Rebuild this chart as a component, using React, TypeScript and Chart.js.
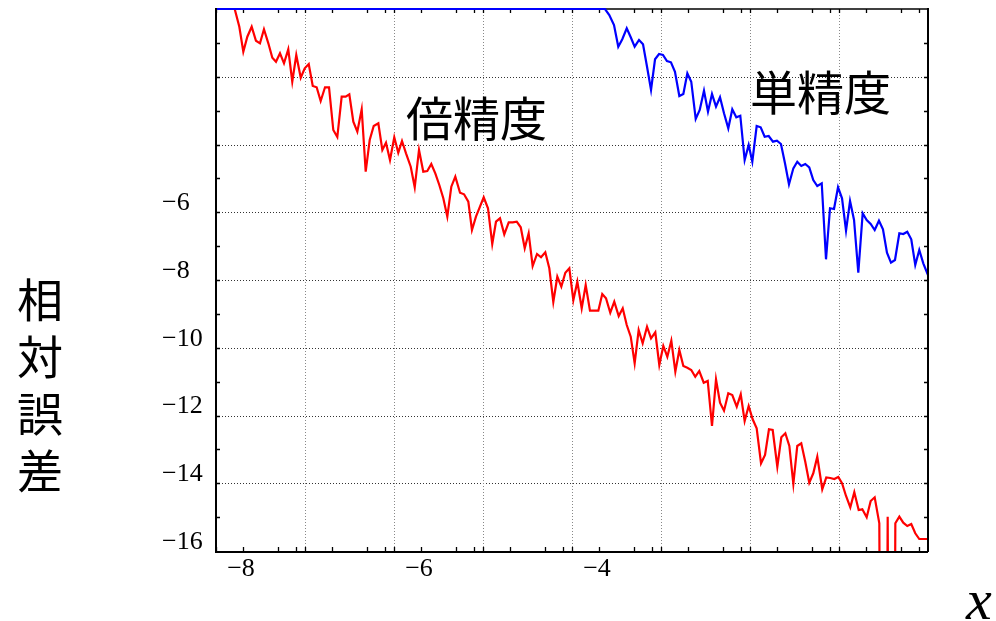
import React, { useEffect, useRef } from 'react';
import { Chart, registerables } from 'chart.js';

Chart.register(...registerables);

// ---- data (x = log10 of step, y = log10 of relative error) ----
const doubleX = [
  -7.831, -7.787, -7.738, -7.693, -7.648, -7.599, -7.551, -7.506, -7.461, -7.412,
  -7.367, -7.326, -7.281, -7.236, -7.188, -7.143, -7.098, -7.048, -7.003, -6.958,
  -6.913, -6.869, -6.824, -6.775, -6.730, -6.682, -6.637, -6.588, -6.543, -6.502,
  -6.457, -6.412, -6.363, -6.318, -6.273, -6.228, -6.176, -6.131, -6.090, -6.045,
  -5.997, -5.952, -5.910, -5.865, -5.812, -5.767, -5.719, -5.671, -5.626, -5.581,
  -5.536, -5.491, -5.446, -5.401, -5.356, -5.311, -5.258, -5.213, -5.165, -5.124,
  -5.079, -5.034, -4.992, -4.944, -4.896, -4.854, -4.809, -4.761, -4.711, -4.666,
  -4.621, -4.576, -4.531, -4.487, -4.442, -4.393, -4.348, -4.300, -4.255, -4.210,
  -4.165, -4.120, -4.075, -4.030, -3.985, -3.940, -3.891, -3.846, -3.798, -3.753,
  -3.704, -3.660, -3.618, -3.570, -3.525, -3.475, -3.430, -3.385, -3.340, -3.296,
  -3.251, -3.206, -3.157, -3.112, -3.064, -3.019, -2.974, -2.929, -2.884, -2.839,
  -2.794, -2.749, -2.704, -2.660, -2.615, -2.570, -2.520, -2.475, -2.427, -2.382,
  -2.337, -2.292, -2.244, -2.199, -2.149, -2.104, -2.060, -2.015, -1.970, -1.925,
  -1.876, -1.831, -1.787, -1.745, -1.693, -1.648, -1.603, -1.558, -1.513, -1.469,
  -1.424, -1.379, -1.334, -1.289, -1.244, -1.188, -1.143, -1.098, -1.053, -1.008,
  -0.966, -0.921, -0.873, -0.828, -0.779, -0.738, -0.689, -0.644, -0.599, -0.547,
  -0.500, -0.453, -0.410, -0.367, -0.322, -0.278, -0.233, -0.188, -0.143, -0.098,
  -0.053, 0,
];
const doubleY = [
  0.5, -0.03, -0.523, -1.260, -0.818, -0.523, -0.936, -1.013, -0.599, -1.013,
  -1.438, -1.556, -1.308, -1.603, -1.190, -2.146, -1.358, -2.028, -1.751, -1.624,
  -2.273, -2.311, -2.716, -2.311, -2.311, -3.572, -3.779, -2.589, -2.589, -2.518,
  -3.327, -3.622, -2.961, -4.803, -3.867, -3.454, -3.374, -4.162, -3.947, -4.458,
  -3.787, -4.242, -3.897, -4.260, -4.655, -5.263, -4.162, -4.803, -4.782, -4.576,
  -4.850, -5.196, -5.588, -6.131, -5.246, -4.950, -5.423, -5.470, -5.689, -6.524,
  -6.131, -5.836, -5.559, -5.883, -6.937, -6.279, -6.179, -6.651, -6.297, -6.297,
  -6.279, -6.444, -7.064, -6.621, -7.587, -7.232, -7.330, -7.182, -7.655, -8.649,
  -7.903, -8.198, -7.784, -7.655, -8.599, -8.050, -8.835, -8.148, -8.906, -8.906,
  -8.906, -8.413, -8.540, -8.965, -8.641, -9.063, -8.835, -9.328, -9.674, -10.459,
  -9.476, -9.869, -9.379, -9.721, -9.544, -10.509, -9.948, -10.264, -9.792, -10.707,
  -10.066, -10.539, -10.589, -10.657, -10.855, -10.686, -11.032, -10.981, -12.310, -10.931,
  -11.622, -11.858, -11.345, -11.395, -11.740, -11.374, -12.162, -11.719, -12.112, -12.378,
  -13.411, -13.166, -12.407, -12.428, -13.511, -12.643, -12.525, -12.900, -14.022, -12.900,
  -12.821, -13.364, -13.984, -13.706, -13.216, -14.178, -13.830, -13.845, -13.874, -13.815,
  -14.001, -14.376, -14.710, -14.267, -14.790, -14.769, -15.005, -14.524, -14.415, -15.182,
  -40, -14.987, -40, -15.182, -14.987, -15.164, -15.262, -15.203, -15.477, -15.646,
  -15.646, -15.646,
];

const singleX = [
  -8, -3.629, -3.581, -3.528, -3.480, -3.435, -3.385, -3.340, -3.296, -3.247,
  -3.202, -3.157, -3.112, -3.067, -3.022, -2.978, -2.933, -2.888, -2.843, -2.794,
  -2.749, -2.704, -2.660, -2.610, -2.565, -2.517, -2.472, -2.427, -2.382, -2.337,
  -2.292, -2.244, -2.199, -2.154, -2.109, -2.060, -2.015, -1.974, -1.925, -1.880,
  -1.835, -1.790, -1.742, -1.697, -1.652, -1.607, -1.562, -1.513, -1.469, -1.424,
  -1.379, -1.334, -1.289, -1.244, -1.194, -1.146, -1.101, -1.056, -1.011, -0.966,
  -0.921, -0.876, -0.831, -0.783, -0.734, -0.689, -0.644, -0.599, -0.551, -0.506,
  -0.461, -0.416, -0.371, -0.322, -0.278, -0.233, -0.188, -0.143, -0.098, -0.053,
  0,
];
const singleY = [
  0, 0, -0.177, -0.472, -1.113, -0.894, -0.570, -0.835, -1.113, -0.915,
  -1.042, -1.703, -2.391, -1.485, -1.328, -1.358, -1.535, -1.573, -1.851, -2.568,
  -2.509, -1.898, -2.146, -3.247, -2.982, -2.412, -3.032, -2.509, -2.884, -2.607,
  -3.079, -3.522, -2.961, -3.197, -3.150, -4.458, -4.015, -4.508, -3.454, -3.492,
  -3.770, -3.749, -3.917, -3.888, -3.985, -4.555, -5.175, -4.703, -4.508, -4.635,
  -4.576, -4.673, -5.048, -5.225, -5.145, -7.389, -5.883, -5.904, -5.263, -5.588,
  -6.545, -5.668, -6.229, -7.784, -6.031, -6.229, -6.347, -6.524, -6.249, -6.503,
  -7.194, -7.489, -7.410, -6.621, -6.642, -6.574, -6.798, -7.557, -7.114, -7.507,
  -7.852,
];

// ---- axes ----
const xMin = -8;
const xMax = 0;
const yMin = -16;
const yMax = 0;
const xTickLabels = [-8, -6, -4];
const yTickLabels = [-6, -8, -10, -12, -14, -16];
const xGridValues = [-7, -6, -5, -4, -3, -2, -1];
const yGridValues = [-2, -4, -6, -8, -10, -12, -14];
const xDecades = [-8, -7, -6, -5, -4, -3, -2, -1];
const xMinorOffsets = [0.301, 0.699, 0.903];
const yTickValues = [-15, -14, -13, -12, -11, -10, -9, -8, -7, -6, -5, -4, -3, -2, -1];

// ---- text ----
const seriesLabels = [
  { text: '倍精度', x: -5.865, y: -3.22 },
  { text: '単精度', x: -2.0, y: -2.45 },
];
const yTitleChars = ['相', '対', '誤', '差'];
const xTitle = 'x';

const minusLabel = (v: number) => (v < 0 ? '\u2212' + Math.abs(v) : String(v));

const framePlugin = {
  id: 'frame',
  beforeDatasetsDraw(chart: any) {
    const { ctx, chartArea: a, scales } = chart;
    const xs = scales.x;
    const ys = scales.y;
    ctx.save();
    // dotted grid
    ctx.lineWidth = 1;
    ctx.setLineDash([1, 2]);
    ctx.strokeStyle = '#333';
    yGridValues.forEach((v) => {
      const p = Math.round(ys.getPixelForValue(v)) + 0.5;
      ctx.beginPath();
      ctx.moveTo(a.left, p);
      ctx.lineTo(a.right, p);
      ctx.stroke();
    });
    ctx.strokeStyle = '#888';
    xGridValues.forEach((v) => {
      const p = Math.round(xs.getPixelForValue(v)) + 0.5;
      ctx.beginPath();
      ctx.moveTo(p, a.top);
      ctx.lineTo(p, a.bottom);
      ctx.stroke();
    });
    ctx.setLineDash([]);
    // inward ticks
    ctx.strokeStyle = '#000';
    ctx.lineWidth = 1.3;
    const tl = 4;
    const xTicks: number[] = [];
    xDecades.forEach((d) => {
      xTicks.push(d);
      xMinorOffsets.forEach((o) => xTicks.push(d + o));
    });
    xTicks.forEach((v) => {
      const p = Math.round(xs.getPixelForValue(v)) + 0.5;
      ctx.beginPath();
      ctx.moveTo(p, a.bottom);
      ctx.lineTo(p, a.bottom - tl);
      ctx.moveTo(p, a.top);
      ctx.lineTo(p, a.top + tl);
      ctx.stroke();
    });
    yTickValues.forEach((v) => {
      const p = Math.round(ys.getPixelForValue(v)) + 0.5;
      ctx.beginPath();
      ctx.moveTo(a.left, p);
      ctx.lineTo(a.left + tl, p);
      ctx.moveTo(a.right, p);
      ctx.lineTo(a.right - tl, p);
      ctx.stroke();
    });
    // top spine (under the curves)
    ctx.lineWidth = 1.5;
    ctx.beginPath();
    ctx.moveTo(a.left, a.top);
    ctx.lineTo(a.right, a.top);
    ctx.stroke();
    ctx.restore();
  },
  afterDatasetsDraw(chart: any) {
    const { ctx, chartArea: a, scales } = chart;
    const xs = scales.x;
    const ys = scales.y;
    ctx.save();
    ctx.strokeStyle = '#000';
    ctx.lineWidth = 2;
    ctx.beginPath();
    ctx.moveTo(a.left, a.top - 1);
    ctx.lineTo(a.left, a.bottom + 1);
    ctx.lineTo(a.right, a.bottom + 1);
    ctx.moveTo(a.right, a.bottom + 1);
    ctx.lineTo(a.right, a.top - 1);
    ctx.stroke();

    ctx.fillStyle = '#000';
    ctx.textBaseline = 'middle';
    ctx.textAlign = 'left';
    ctx.font = "47px 'Noto Sans CJK JP', 'Noto Sans CJK SC', sans-serif";
    seriesLabels.forEach((l) => {
      ctx.fillText(l.text, xs.getPixelForValue(l.x), ys.getPixelForValue(l.y));
    });

    ctx.textAlign = 'center';
    ctx.font = "46px 'Noto Sans CJK JP', 'Noto Sans CJK SC', sans-serif";
    yTitleChars.forEach((c, i) => {
      ctx.fillText(c, a.left - 176, a.top + 291 + i * 57);
    });

    ctx.textAlign = 'left';
    ctx.textBaseline = 'alphabetic';
    ctx.font = "italic 58px 'Liberation Serif', 'DejaVu Serif', serif";
    ctx.fillText(xTitle, a.right + 38, 619);
    ctx.restore();
  },
};

export default function App() {
  const ref = useRef<HTMLCanvasElement>(null);
  useEffect(() => {
    if (!ref.current) return;
    const tickFont = { family: "'Liberation Serif', 'DejaVu Serif', serif", size: 26 };
    const chart = new Chart(ref.current, {
      type: 'line',
      data: {
        datasets: [
          {
            label: '単精度',
            data: singleX.map((x, i) => ({ x, y: singleY[i] })),
            borderColor: '#0000ff',
            borderWidth: 2.2,
            pointRadius: 0,
            tension: 0,
            fill: false,
            clip: 2,
          },
          {
            label: '倍精度',
            data: doubleX.map((x, i) => ({ x, y: doubleY[i] })),
            borderColor: '#ff0000',
            borderWidth: 2.2,
            pointRadius: 0,
            tension: 0,
            fill: false,
            clip: { left: 2, right: 2, top: 0, bottom: 2 },
          },
        ],
      },
      options: {
        animation: false,
        responsive: false,
        events: [],
        layout: { autoPadding: false, padding: { left: 162, top: 9, right: 68, bottom: 30 } },
        plugins: { legend: { display: false }, tooltip: { enabled: false } },
        scales: {
          x: {
            type: 'linear',
            min: xMin,
            max: xMax,
            grid: { display: false, drawTicks: false },
            border: { display: false },
            afterFit: (s: any) => {
              s.height = 40;
              s.paddingLeft = 0;
              s.paddingRight = 0;
              s.paddingTop = 0;
              s.paddingBottom = 0;
            },
            ticks: {
              stepSize: 1,
              autoSkip: false,
              maxRotation: 0,
              padding: 3,
              labelOffset: 25,
              color: '#000',
              font: tickFont,
              callback: (v: any) => (xTickLabels.includes(Number(v)) ? minusLabel(Number(v)) : null),
            },
          },
          y: {
            type: 'linear',
            min: yMin,
            max: yMax,
            grid: { display: false, drawTicks: false },
            border: { display: false },
            afterFit: (s: any) => {
              s.width = 54;
              s.paddingLeft = 0;
              s.paddingRight = 0;
              s.paddingTop = 0;
              s.paddingBottom = 0;
            },
            ticks: {
              stepSize: 2,
              autoSkip: false,
              crossAlign: 'far',
              padding: 16,
              labelOffset: -9,
              color: '#000',
              font: tickFont,
              callback: (v: any) => (yTickLabels.includes(Number(v)) ? minusLabel(Number(v)) : null),
            },
          },
        },
      },
      plugins: [framePlugin],
    } as any);
    return () => chart.destroy();
  }, []);
  return (
    <div style={{ position: 'fixed', left: 0, top: 0, width: 996, height: 621, background: '#fff' }}>
      <canvas ref={ref} width={996} height={621} style={{ display: 'block' }} />
    </div>
  );
}
